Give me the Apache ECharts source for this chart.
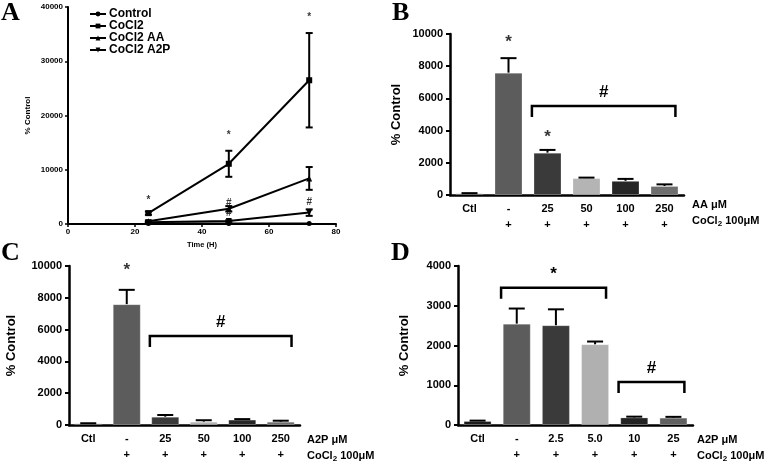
<!DOCTYPE html>
<html>
<head>
<meta charset="utf-8">
<script src="https://cdn.jsdelivr.net/npm/echarts@6/dist/echarts.min.js"></script>
<style>
  html, body { margin: 0; padding: 0; background: #fff; }
  #main { width: 778px; height: 464px; }
</style>
</head>
<body>
<div id="main"></div>
<script>
// ---- panel A: time course ----
const aHours = [24, 48, 72];
const aControl = [100, 100, 100];
const aCoCl2 = [2000, 11100, 26500];
const aCoCl2Err = [300, 2400, 8700];
const aAA = [500, 2800, 8400];
const aAAErr = [150, 500, 2100];
const aA2P = [300, 550, 2100];
const aA2PErr = [100, 150, 600];
const aStars = [[24, 4400], [48, 16400], [72, 38200]];
const aHashes = [[48, 3900], [48, 2000], [72, 4100]];

// ---- panel B: AA ----
const bCats = ['Ctl', '-', '25', '50', '100', '250'];
const bCo = ['', '+', '+', '+', '+', '+'];
const bMean = [100, 7600, 2630, 1050, 880, 560];
const bErr = [15, 900, 170, 30, 120, 100];
const bStars = [[1, 9500], [2, 3600]];
const bBrackets = [[2, 5, 5530, '#']];

// ---- panel C: A2P ----
const cCats = ['Ctl', '-', '25', '50', '100', '250'];
const cCo = ['', '+', '+', '+', '+', '+'];
const cMean = [100, 7600, 520, 210, 340, 210];
const cErr = [10, 900, 110, 90, 30, 60];
const cStars = [[1, 9700]];
const cBrackets = [[2, 5, 5600, '#']];

// ---- panel D: A2P low dose ----
const dCats = ['Ctl', '-', '2.5', '5.0', '10', '25'];
const dCo = ['', '+', '+', '+', '+', '+'];
const dMean = [100, 2550, 2510, 2030, 190, 185];
const dErr = [10, 380, 400, 70, 20, 20];
const dBrackets = [[1, 3, 3450, '*'], [4, 5, 1080, '#']];

const barColors = ['#1c1c1c', '#5c5c5c', '#3a3a3a', '#b4b4b4', '#262626', '#6e6e6e'];
const dColors = ['#1c1c1c', '#5c5c5c', '#3a3a3a', '#b0b0b0', '#222222', '#606060'];

const FONT = 'Liberation Sans, Arial, sans-serif';
const chart = echarts.init(document.getElementById('main'), null, { renderer: 'canvas' });
const plain = v => String(v);

function barXAxis(grid, cats, co) {
  return {
    type: 'category', gridIndex: grid, data: cats,
    axisLine: { lineStyle: { color: '#000', width: 2.5 } },
    axisTick: { alignWithLabel: true, length: 4, lineStyle: { color: '#000', width: 2 } },
    axisLabel: {
      color: '#000', fontFamily: FONT, fontWeight: 'bold', fontSize: 11,
      lineHeight: 16, margin: 6, interval: 0,
      formatter: (v, i) => v + '\n' + (co[i] || ' ')
    }
  };
}
function barYAxis(grid, max, interval, gap) {
  return {
    type: 'value', gridIndex: grid, min: 0, max: max, interval: interval,
    name: '% Control', nameLocation: 'middle', nameGap: gap,
    nameTextStyle: { color: '#000', fontFamily: FONT, fontWeight: 'bold', fontSize: 13 },
    axisLine: { show: true, lineStyle: { color: '#000', width: 2.5 } },
    axisTick: { show: true, length: 4, lineStyle: { color: '#000', width: 2 } },
    axisLabel: { color: '#000', fontFamily: FONT, fontWeight: 'bold', fontSize: 11, margin: 7, formatter: plain },
    splitLine: { show: false }
  };
}
function barSeries(grid, mean, colors) {
  return {
    type: 'bar', xAxisIndex: grid, yAxisIndex: grid, barWidth: 28,
    data: mean.map((v, i) => ({ value: v, itemStyle: { color: colors[i], borderColor: 'rgba(255,255,255,0.25)', borderWidth: 1 } })),
    z: 2
  };
}
function errSeries(grid, mean, err, half, symmetric, xs) {
  return {
    type: 'custom', xAxisIndex: grid, yAxisIndex: grid, z: 5,
    encode: { x: 0, y: 1 },
    data: mean.map((m, i) => [xs ? xs[i] : i, m, err[i]]),
    renderItem: (params, api) => {
      const x = api.value(0), m = api.value(1), e = api.value(2);
      const top = api.coord([x, m + e]);
      const bot = api.coord([x, symmetric ? Math.max(m - e, 0) : m]);
      const st = { stroke: '#000', lineWidth: 2 };
      const kids = [
        { type: 'line', shape: { x1: top[0], y1: top[1], x2: bot[0], y2: bot[1] }, style: st },
        { type: 'line', shape: { x1: top[0] - half, y1: top[1], x2: top[0] + half, y2: top[1] }, style: st }
      ];
      if (symmetric) kids.push({ type: 'line', shape: { x1: bot[0] - half, y1: bot[1], x2: bot[0] + half, y2: bot[1] }, style: st });
      return { type: 'group', children: kids };
    }
  };
}
function markSeries(grid, pts, text, size) {
  return {
    type: 'scatter', xAxisIndex: grid, yAxisIndex: grid, symbolSize: 0, z: 6,
    data: pts, silent: true,
    label: { show: true, position: 'inside', formatter: text, color: '#000', fontFamily: FONT, fontWeight: 'bold', fontSize: size }
  };
}
function bracketSeries(grid, brackets) {
  return {
    type: 'custom', xAxisIndex: grid, yAxisIndex: grid, z: 6,
    encode: { x: 0, y: 2 },
    data: brackets.map(b => [b[0], b[1], b[2]]),
    renderItem: (params, api) => {
      const band = api.size([1, 0])[0];
      const p0 = api.coord([api.value(0), api.value(2)]);
      const p1 = api.coord([api.value(1), api.value(2)]);
      const x0 = p0[0] - 0.4 * band, x1 = p1[0] + 0.28 * band, y = p0[1];
      return {
        type: 'group', children: [
          { type: 'polyline', shape: { points: [[x0, y + 11], [x0, y], [x1, y], [x1, y + 11]] }, style: { stroke: '#000', lineWidth: 2.5, fill: null } },
          { type: 'text', style: { text: brackets[params.dataIndex][3], x: (x0 + x1) / 2, y: y - 13.5, align: 'center', verticalAlign: 'middle', fill: '#000', font: 'bold 17px ' + FONT } }
        ]
      };
    }
  };
}
function letter(t, x, y) {
  return { type: 'text', left: x, top: y, style: { text: t, fill: '#000', font: 'bold 26px Liberation Serif, Times New Roman, serif' } };
}
function rowLabels(x, y, name) {
  return {
    type: 'text', left: x, top: y,
    style: {
      text: '{a|' + name + '}\n{a|CoCl}{s|2}{a| 100μM}',
      fill: '#000',
      rich: {
        a: { fontFamily: FONT, fontWeight: 'bold', fontSize: 11, lineHeight: 16 },
        s: { fontFamily: FONT, fontWeight: 'bold', fontSize: 8, lineHeight: 16, padding: [6, 0, 0, 0] }
      }
    }
  };
}

const lineStyle = { color: '#000', width: 2 };
const pair = arr => arr.map((v, i) => [aHours[i], v]);

const option = {
  animation: false,
  textStyle: { fontFamily: FONT },
  grid: [
    { left: 68, top: 7, width: 268, height: 217 },
    { left: 450, top: 34, width: 234, height: 161 },
    { left: 69, top: 266, width: 231, height: 159 },
    { left: 458, top: 266, width: 235, height: 159 }
  ],
  legend: {
    left: 84, top: 3, orient: 'vertical', itemWidth: 16, itemHeight: 6, itemGap: 0,
    textStyle: { color: '#000', fontFamily: FONT, fontWeight: 'bold', fontSize: 12, padding: [0, 0, 0, -2] },
    data: ['Control', 'CoCl2', 'CoCl2 AA', 'CoCl2 A2P']
  },
  xAxis: [
    {
      type: 'value', gridIndex: 0, min: 0, max: 80, interval: 20,
      name: 'Time (H)', nameLocation: 'middle', nameGap: 17,
      nameTextStyle: { color: '#000', fontFamily: FONT, fontWeight: 'bold', fontSize: 7.5 },
      axisLine: { lineStyle: { color: '#000', width: 2 } },
      axisTick: { length: 3, lineStyle: { color: '#000', width: 1.5 } },
      axisLabel: { color: '#000', fontFamily: FONT, fontWeight: 'bold', fontSize: 8, margin: 4 },
      splitLine: { show: false }
    },
    barXAxis(1, bCats, bCo),
    barXAxis(2, cCats, cCo),
    barXAxis(3, dCats, dCo)
  ],
  yAxis: [
    {
      type: 'value', gridIndex: 0, min: 0, max: 40000, interval: 10000,
      name: '% Control', nameLocation: 'middle', nameGap: 36,
      nameTextStyle: { color: '#000', fontFamily: FONT, fontWeight: 'bold', fontSize: 8 },
      axisLine: { show: true, lineStyle: { color: '#000', width: 2 } },
      axisTick: { show: true, length: 3, lineStyle: { color: '#000', width: 1.5 } },
      axisLabel: { color: '#000', fontFamily: FONT, fontWeight: 'bold', fontSize: 8, margin: 5, formatter: plain },
      splitLine: { show: false }
    },
    barYAxis(1, 10000, 2000, 47),
    barYAxis(2, 10000, 2000, 51),
    barYAxis(3, 4000, 1000, 47)
  ],
  series: [
    { name: 'Control', type: 'line', data: pair(aControl), symbol: 'circle', symbolSize: 5, itemStyle: { color: '#000' }, lineStyle },
    { name: 'CoCl2', type: 'line', data: pair(aCoCl2), symbol: 'rect', symbolSize: 6, itemStyle: { color: '#000' }, lineStyle },
    { name: 'CoCl2 AA', type: 'line', data: pair(aAA), symbol: 'triangle', symbolSize: 6, itemStyle: { color: '#000' }, lineStyle },
    { name: 'CoCl2 A2P', type: 'line', data: pair(aA2P), symbol: 'triangle', symbolRotate: 180, symbolSize: 6, itemStyle: { color: '#000' }, lineStyle },
    errSeries(0, aCoCl2, aCoCl2Err, 3.5, true, aHours),
    errSeries(0, aAA, aAAErr, 3.5, true, aHours),
    errSeries(0, aA2P, aA2PErr, 3.5, true, aHours),
    markSeries(0, aStars, '*', 10),
    markSeries(0, aHashes, '#', 10),

    barSeries(1, bMean, barColors),
    errSeries(1, bMean, bErr, 8, false),
    markSeries(1, bStars, '*', 17),
    bracketSeries(1, bBrackets),

    barSeries(2, cMean, barColors),
    errSeries(2, cMean, cErr, 8, false),
    markSeries(2, cStars, '*', 17),
    bracketSeries(2, cBrackets),

    barSeries(3, dMean, dColors),
    errSeries(3, dMean, dErr, 8, false),
    bracketSeries(3, dBrackets)
  ],
  graphic: [
    letter('A', 1, 0),
    letter('B', 392, 0),
    letter('C', 1, 240),
    letter('D', 391, 240),
    rowLabels(692, 199, 'AA μM'),
    rowLabels(307, 434, 'A2P μM'),
    rowLabels(697, 434, 'A2P μM')
  ]
};

chart.setOption(option);
</script>
</body>
</html>
